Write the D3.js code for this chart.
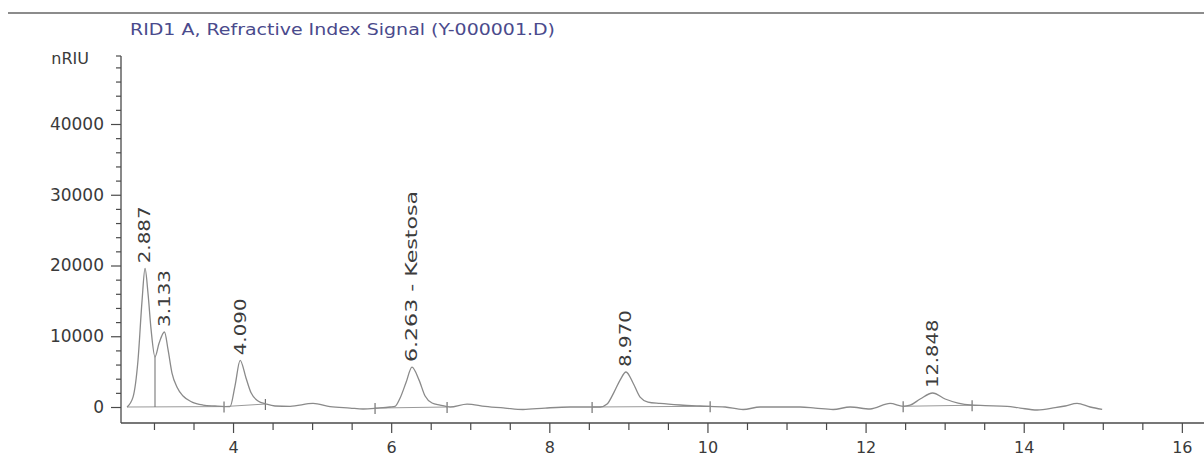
<!DOCTYPE html>
<html><head><meta charset="utf-8">
<script src="https://cdn.jsdelivr.net/npm/d3@7"></script>
<style>
html,body{margin:0;padding:0;background:#fff;}
svg{display:block;}
</style></head>
<body>
<svg id="chart" width="1204" height="456"></svg>
<script>
// ---- data ----
const title = "RID1 A, Refractive Index Signal (Y-000001.D)";
const yUnit = "nRIU";
const times = [2.659,2.735,2.798,2.849,2.887,2.925,2.963,3.013,3.064,3.133,3.178,3.228,3.292,3.368,3.481,3.621,3.772,3.899,3.962,4.025,4.090,4.164,4.228,4.316,4.418,4.531,4.721,5.012,5.227,5.480,5.644,5.834,5.986,6.049,6.113,6.189,6.263,6.353,6.429,6.517,6.618,6.745,6.960,7.187,7.440,7.668,7.946,8.263,8.516,8.643,8.731,8.819,8.895,8.970,9.059,9.148,9.248,9.400,9.654,9.907,10.223,10.451,10.666,11.172,11.362,11.589,11.804,12.057,12.310,12.475,12.563,12.690,12.848,13.006,13.170,13.322,13.512,13.790,13.955,14.170,14.397,14.524,14.675,14.840,14.992];
const signal = [0,1400,6600,15000,19600,16000,11000,7100,9000,10600,8100,4800,2800,1550,700,280,140,60,60,3000,6600,4100,2000,850,420,140,100,500,50,-150,-280,-150,0,100,1270,3500,5650,3800,1550,560,280,0,420,100,-150,-350,-150,0,0,0,420,2100,3800,4950,3400,1400,700,500,280,140,0,-350,0,0,-150,-350,0,-280,500,100,250,1130,1980,1130,560,280,200,100,-150,-420,-100,140,500,0,-350];
const peakTimes = [2.887, 3.133, 4.090, 6.263, 8.970, 12.848];
const peakHeights = [19600, 10600, 6600, 5650, 4950, 1980];
const peakLabels = ["2.887", "3.133", "4.090", "6.263 - Kestosa", "8.970", "12.848"];
const markTimes = [3.886, 4.409, 5.796, 6.707, 8.541, 10.034, 12.475, 13.347];
const markValues = [60, 420, -150, 0, 0, 100, 100, 250];
const baseFromT = [2.659, 3.886, 5.796, 8.541, 12.475];
const baseFromV = [0, 60, -150, 0, 100];
const baseToT = [3.886, 4.409, 6.707, 10.034, 13.347];
const baseToV = [60, 420, 0, 100, 250];
const dropTimes = [3.013];
const dropValues = [7100];
const yMajorTicks = [0, 10000, 20000, 30000, 40000];
const xMajorTicks = [4, 6, 8, 10, 12, 14, 16];

// ---- layout ----
const svg = d3.select("#chart");
const x = d3.scaleLinear().domain([2.583, 16.28]).range([121, 1204]);
const y = d3.scaleLinear().domain([-2261, 49611]).range([423, 56]);
const axisColor = "#4a4a4a";
const traceColor = "#8a8a8a";
const font = "DejaVu Sans, Verdana, sans-serif";

// top rule
svg.append("line").attr("x1", 8).attr("x2", 1204).attr("y1", 13).attr("y2", 13)
  .attr("stroke", "#8c8c8c").attr("stroke-width", 2.2);

// title
svg.append("text").attr("x", 130).attr("y", 35)
  .attr("font-family", font).attr("font-size", 15).attr("fill", "#4a4a8c")
  .attr("textLength", 425).attr("lengthAdjust", "spacingAndGlyphs")
  .text(title);

// y axis
const yMinor = d3.range(0, 49000, 2000).filter(v => v % 10000 !== 0);
const yAxisMinor = d3.axisLeft(y).tickValues(yMinor).tickSize(5).tickFormat("");
const yAxisMajor = d3.axisLeft(y).tickValues(yMajorTicks).tickSize(10).tickPadding(7).tickFormat(d3.format("d"));
const gyMinor = svg.append("g").attr("transform", "translate(121,0)").call(yAxisMinor);
const gy = svg.append("g").attr("transform", "translate(121,0)").call(yAxisMajor);
[gy, gyMinor].forEach(g => {
  g.select(".domain").remove();
  g.selectAll(".tick line").attr("stroke", axisColor).attr("stroke-width", 1.2);
});
gy.selectAll(".tick text").attr("font-family", font).attr("font-size", 17).attr("fill", "#3a3a3a");
svg.append("line").attr("x1", 121).attr("x2", 121).attr("y1", 56).attr("y2", 423)
  .attr("stroke", axisColor).attr("stroke-width", 1.3);
svg.append("line").attr("x1", 116).attr("x2", 121).attr("y1", 56).attr("y2", 56)
  .attr("stroke", axisColor).attr("stroke-width", 1.2);
svg.append("text").attr("x", 89).attr("y", 58).attr("dy", "0.35em").attr("text-anchor", "end")
  .attr("font-family", font).attr("font-size", 16).attr("fill", "#3a3a3a").text(yUnit);

// x axis
const xMinor = d3.range(3, 16.01, 0.5).filter(t => !xMajorTicks.includes(t));
const xAxisMinor = d3.axisBottom(x).tickValues(xMinor).tickSize(7).tickFormat("");
const xAxisMajor = d3.axisBottom(x).tickValues(xMajorTicks).tickSize(10).tickPadding(9).tickFormat(d3.format("d"));
const gxMinor = svg.append("g").attr("transform", "translate(0,423)").call(xAxisMinor);
const gx = svg.append("g").attr("transform", "translate(0,423)").call(xAxisMajor);
[gx, gxMinor].forEach(g => {
  g.select(".domain").remove();
  g.selectAll(".tick line").attr("stroke", axisColor).attr("stroke-width", 1.2);
});
gx.selectAll(".tick text").attr("font-family", font).attr("font-size", 16).attr("fill", "#3a3a3a");
svg.append("line").attr("x1", 121).attr("x2", 1204).attr("y1", 423).attr("y2", 423)
  .attr("stroke", axisColor).attr("stroke-width", 1.3);

// integration baselines
const baseG = svg.append("g");
baseFromT.forEach((t, i) => {
  baseG.append("line")
    .attr("x1", x(t)).attr("y1", y(baseFromV[i]))
    .attr("x2", x(baseToT[i])).attr("y2", y(baseToV[i]))
    .attr("stroke", "#9a9a9a").attr("stroke-width", 1);
});
// drop lines
dropTimes.forEach((t, i) => {
  baseG.append("line").attr("x1", x(t)).attr("x2", x(t))
    .attr("y1", y(0)).attr("y2", y(dropValues[i]))
    .attr("stroke", "#777").attr("stroke-width", 1.1);
});
// integration marks
markTimes.forEach((t, i) => {
  baseG.append("line").attr("x1", x(t)).attr("x2", x(t))
    .attr("y1", y(markValues[i]) - 5).attr("y2", y(markValues[i]) + 6)
    .attr("stroke", "#666").attr("stroke-width", 1.1);
});

// trace
const pts = times.map((t, i) => [t, signal[i]]);
svg.append("path").datum(pts)
  .attr("fill", "none").attr("stroke", traceColor).attr("stroke-width", 1.3)
  .attr("stroke-linejoin", "round")
  .attr("d", d3.line().curve(d3.curveMonotoneX).x(d => x(d[0])).y(d => y(d[1])));

// peak labels
peakTimes.forEach((t, i) => {
  const px = x(t), py = y(peakHeights[i]) - 5;
  const lbl = peakLabels[i];
  svg.append("text")
    .attr("transform", `translate(${px},${py}) rotate(-90)`)
    .attr("dy", "0.36em")
    .attr("font-family", font).attr("font-size", 15).attr("fill", "#3c3c3c")
    .attr("textLength", lbl.length * 11.4).attr("lengthAdjust", "spacingAndGlyphs")
    .text(lbl);
});
</script>
</body></html>
